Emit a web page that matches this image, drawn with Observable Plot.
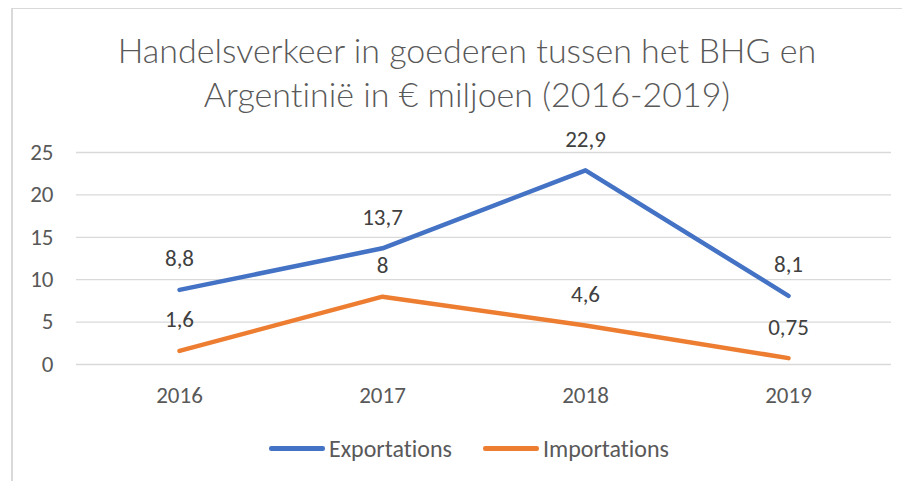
<!DOCTYPE html>
<html>
<head>
<meta charset="utf-8">
<script src="https://cdn.jsdelivr.net/npm/d3@7"></script>
<script src="https://cdn.jsdelivr.net/npm/@observablehq/plot@0.6"></script>
<style>
  html, body { margin: 0; padding: 0; background: #fff; }
  body { width: 902px; height: 481px; overflow: hidden; position: relative;
         font-family: Carlito, "Open Sans", sans-serif; font-variant-ligatures: none; }
  svg text { font-variant-ligatures: none; }
  #frame { position: absolute; left: 11px; top: 8px; width: 1000px; height: 600px;
           border-left: 2px solid #d9d9d9; border-top: 1px solid #d9d9d9; }
  #title { position: absolute; left: 12px; width: 910px; top: 28px; text-align: center;
           font-family: Lato, Carlito, sans-serif;
           font-size: 34px; font-weight: 300; line-height: 44px; color: #595959; }
  #chart { position: absolute; left: 0; top: 130px; }
  #legend { position: absolute; left: 14px; width: 910px; top: 434px; display: flex;
            justify-content: center; align-items: center; gap: 31px;
            font-size: 24px; color: #595959; }
  .item { display: flex; align-items: center; gap: 4px; }
  .swatch { width: 56px; height: 4.5px; border-radius: 2.25px; }
</style>
</head>
<body>
<div id="frame"></div>
<div id="title">Handelsverkeer in goederen tussen het BHG en<br>Argentinië in € miljoen (2016-2019)</div>
<div id="chart"></div>
<div id="legend"></div>
<script>
const years = ["2016", "2017", "2018", "2019"];
const exportations = [8.8, 13.7, 22.9, 8.1];
const importations = [1.6, 8, 4.6, 0.75];
const seriesNames = ["Exportations", "Importations"];
const seriesColors = ["#4472C4", "#ED7D31"];
const yTicks = [0, 5, 10, 15, 20, 25];

const rows = years.flatMap((y, i) => [
  {year: y, value: exportations[i], series: seriesNames[0]},
  {year: y, value: importations[i], series: seriesNames[1]}
]);
const fmt = v => String(v).replace(".", ",");
const font = 'Carlito, "Open Sans", sans-serif';

const chart = Plot.plot({
  width: 902, height: 280,
  marginLeft: 76, marginRight: 11, marginTop: 22, marginBottom: 46,
  x: {type: "point", domain: years, padding: 0.5, label: null},
  y: {domain: [0, 25], label: null},
  color: {domain: seriesNames, range: seriesColors},
  style: {fontFamily: font, fontSize: "23px", color: "#595959", background: "transparent", overflow: "visible"},
  marks: [
    Plot.gridY(yTicks, {stroke: "#d9d9d9", strokeOpacity: 1, strokeWidth: 1.3}),
    Plot.axisY(yTicks, {tickSize: 0, tickPadding: 23, fontSize: 23, fill: "#595959", label: null}),
    Plot.axisX(years, {tickSize: 0, tickPadding: 22, fontSize: 23, fill: "#595959", label: null}),
    Plot.lineY(rows, {x: "year", y: "value", z: "series", stroke: "series", strokeWidth: 4.5,
                      strokeLinecap: "round", strokeLinejoin: "round"}),
    Plot.text(rows, {x: "year", y: "value", text: d => fmt(d.value), dy: -31,
                     fill: "#404040", fontSize: 23})
  ]
});
document.getElementById("chart").appendChild(chart);

const legend = document.getElementById("legend");
seriesNames.forEach((name, i) => {
  const item = document.createElement("div");
  item.className = "item";
  const sw = document.createElement("div");
  sw.className = "swatch";
  sw.style.background = seriesColors[i];
  const label = document.createElement("span");
  label.textContent = name;
  item.appendChild(sw);
  item.appendChild(label);
  legend.appendChild(item);
});
</script>
</body>
</html>
